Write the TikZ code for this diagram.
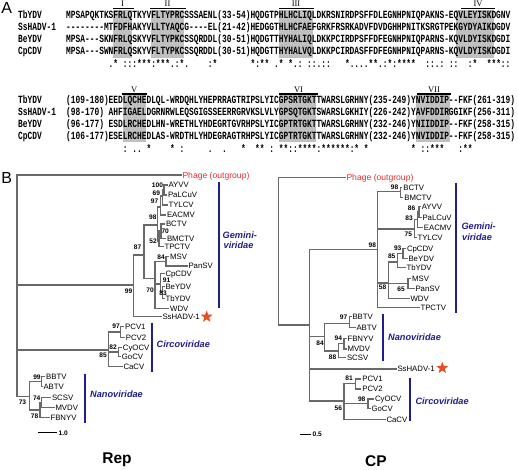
\documentclass[tikz,border=0pt]{standalone}
\usepackage{fontspec}
\setmainfont{Liberation Sans}
\newfontfamily\seqfont[FakeStretch=0.716]{Liberation Mono}
\newfontfamily\romfont{Liberation Serif}
\usetikzlibrary{shapes.geometric}
\definecolor{motifgray}{RGB}{192,192,192}
\definecolor{treegray}{RGB}{105,105,105}
\definecolor{famblue}{RGB}{30,30,140}
\definecolor{phred}{RGB}{232,44,44}
\definecolor{starred}{RGB}{236,76,36}
\newcommand\gp{\mbox{-}}
\begin{document}
\begin{tikzpicture}[x=1pt,y=-1pt,
  seq/.style={anchor=base west, inner sep=0, font=\seqfont\bfseries\fontsize{11}{12}\selectfont},
  rnum/.style={inner sep=0, font=\romfont\fontsize{8.5}{9}\selectfont},
  mbar/.style={line width=1.8pt},
  motif/.style={fill=motifgray},
  tax/.style={anchor=west, inner sep=0.8pt, text height=5.6pt, text depth=0pt, font=\fontsize{7.8}{9}\selectfont},
  phage/.style={tax, text=phred, text height=6.2pt, font=\fontsize{8.6}{10}\selectfont},
  bs/.style={inner sep=0, text height=4.8pt, text depth=0pt, font=\bfseries\fontsize{6.6}{7}\selectfont},
  br/.style={draw=treegray, line width=1.1pt},
  fam/.style={anchor=west, inner sep=0, text=famblue, text height=6.6pt, text depth=0pt, font=\bfseries\itshape\fontsize{9.2}{10}\selectfont},
  famline/.style={draw=famblue, line width=1.7pt},
  sstar/.style={star, star points=5, star point ratio=2.4, fill=starred, draw=none, inner sep=0, minimum size=12.5pt},
  ttl/.style={font=\bfseries\fontsize{15.5}{18}\selectfont, inner sep=0},
  panel/.style={font=\fontsize{16}{18}\selectfont, inner sep=0}
]
\useasboundingbox (0,0) rectangle (518,469);

% ---------------- Panel A ----------------
\node[panel] (pA) at (6.7,7.8) {A};
% motif shading
\fill[motif] (113.2,9.5) rectangle (132.2,57.5);
\fill[motif] (151,9.5) rectangle (184.1,57.5);
\fill[motif] (278.6,9.5) rectangle (313,57.5);
\fill[motif] (456,9.5) rectangle (493.5,57.5);
\fill[motif] (122.7,95) rectangle (146.3,141.5);
\fill[motif] (278.6,95) rectangle (316.4,141.5);
\fill[motif] (416,95) rectangle (450,141.5);
% motif bars and numerals
\draw[mbar] (112.5,8.5) -- (133.5,8.5);
\draw[mbar] (150,8.5) -- (185.5,8.5);
\draw[mbar] (278.7,8.5) -- (314,8.5);
\draw[mbar] (461,8.5) -- (495,8.5);
\draw[mbar] (121.7,94) -- (147,94);
\draw[mbar] (278.7,94) -- (318,94);
\draw[mbar] (417,94) -- (451,94);
\node[rnum] (mI) at (122.5,4) {I};
\node[rnum] (mII) at (167.5,4) {II};
\node[rnum] (mIII) at (296,4) {III};
\node[rnum] (mIV) at (478,4) {IV};
\node[rnum] (mV) at (134.3,89.5) {V};
\node[rnum] (mVI) at (298.5,89.5) {VI};
\node[rnum] (mVII) at (434,89.5) {VII};
% block 1
\node[seq] (n11) at (18,18) {TbYDV};
\node[seq] (n12) at (18,30.3) {SsHADV-1};
\node[seq] (n13) at (18,42.5) {BeYDV};
\node[seq] (n14) at (18,54.8) {CpCDV};
\node[seq] (s11) at (66,18) {MPSAPQKTKSFRLQTKYVFLTYPRCSSSAENL(33-54)HQDGTPHLHCLIQLDKRSNIRDPSFFDLEGNHPNIQPAKNS\gp EQVLEYISKDGNV};
\node[seq] (s12) at (66,30.3) {\gp\gp\gp\gp\gp\gp\gp\gp MTFDFHAKYVLLTYAQCG\gp\gp\gp\gp EL(21-42)HEDGGTHLHCFAEFGRKFRSRKADVFDVDGHHPNITKSRGTPEKGYDYAIKDGDV};
\node[seq] (s13) at (66,42.5) {MPSA\gp\gp\gp SKNFRLQSKYVFLTYPKCSSQRDDL(30-51)HQDGTTHYHALIQLDKKPCIRDPSFFDFEGNHPNIQPARNS\gp KQVLDYISKDGDI};
\node[seq] (s14) at (66,54.8) {MPSA\gp\gp\gp SWNFRLQSKYVFLTYPKCSSQRDDL(30-51)HQDGTTHYHALVQLDKKPCIRDASFFDFEGNHPNIQPARNS\gp KQVLDYISKDGDI};
\node[seq] (c1) at (66,67) {~~~~~~~~~.*~:::***:***.:*.~~~~:*~~~~~~~*:**~.*~*.:~::.::~~~*....**.:*:****~~::.:~::~~:*~~***::};
% block 2
\node[seq] (n21) at (18,103) {TbYDV};
\node[seq] (n22) at (18,115.3) {SsHADV-1};
\node[seq] (n23) at (18,127.6) {BeYDV};
\node[seq] (n24) at (18,139.9) {CpCDV};
\node[seq] (s21) at (66,103) {(109-180)EEDLQCHEDLQL\gp WRDQHLYHEPRRAGTRIPSLYICGPSRTGKTTWARSLGRHNY(235-249)YNVIDDIP\gp\gp FKF(261-319)};
\node[seq] (s22) at (66,115.3) {(98-170)~AHFIGAELDGRNRWLEQSGIGSSEERRGRVKSLVLYGPSQTGKTSWARSLGKHIY(226-242)YAVFDDIRGGIKF(256-311)};
\node[seq] (s23) at (66,127.6) {(96-177)~ESDLRCHEDLHN\gp WRETHLYHDEGRTGVRHPSLYICGPTRTGKTTWARSLGRHNY(232-246)YNIIDDIP\gp\gp FKF(258-315)};
\node[seq] (s24) at (66,139.9) {(106-177)ESELRCHEDLAS\gp WRDTHLYHDEGRAGTRHPSLYICGPTRTGKTTWARSLGRHNY(232-246)YNVIDDIP\gp\gp FKF(258-315)};
\node[seq] (c2) at (66,152.2) {~~~~~~~~~~~~:~..~*~~~~*~:~~~~~.~~.~~~*~~**~:~**::****:******:*~*~~~~~~~~~*~::***~~~:**};

% ---------------- Panel B ----------------
\node[panel] (pB) at (6.7,177.5) {B};

% ===== Rep tree =====
\coordinate (rR) at (17,285);
\node[phage] (rPhage) at (181.5,175) {Phage (outgroup)};
\coordinate (rG0) at (133.3,285);
\coordinate (rC0) at (108.3,350);
\coordinate (rN0) at (29.3,396.7);
\draw[br] (rR) |- (rPhage) (rR) |- (rG0) (rR) |- (rC0) (rR) |- (rN0);
% Geminiviridae + SsHADV-1
\coordinate (rG1) at (144,255);
\node[tax] (rSs) at (161.5,316.7) {SsHADV-1};
\draw[br] (rG0) |- (rG1) (rG0) |- (rSs);
\coordinate (rG2) at (157.5,225);
\coordinate (rG3) at (155,278.3);
\draw[br] (rG1) |- (rG2) (rG1) |- (rG3);
\coordinate (rB1) at (160.7,207);
\coordinate (rK1) at (159,241);
\draw[br] (rG2) |- (rB1) (rG2) |- (rK1);
\coordinate (rB2) at (162.3,196);
\node[tax] (rEACMV) at (166,215) {EACMV};
\draw[br] (rB1) |- (rB2) (rB1) |- (rEACMV);
\coordinate (rB3) at (164,190);
\node[tax] (rTYLCV) at (167.5,205) {TYLCV};
\draw[br] (rB2) |- (rB3) (rB2) |- (rTYLCV);
\node[tax] (rAYVV) at (167.5,185) {AYVV};
\node[tax] (rPaLCuV) at (167,195) {PaLCuV};
\draw[br] (rB3) |- (rAYVV) (rB3) |- (rPaLCuV);
\coordinate (rK2) at (161,231);
\node[tax] (rTPCTV) at (163.5,246.7) {TPCTV};
\draw[br] (rK1) |- (rK2) (rK1) |- (rTPCTV);
\node[tax] (rBCTV) at (165,224) {BCTV};
\node[tax] (rBMCTV) at (166,238.3) {BMCTV};
\draw[br] (rK2) |- (rBCTV) (rK2) |- (rBMCTV);
\coordinate (rM1) at (166,261.7);
\coordinate (rC1) at (160.5,284);
\node[tax] (rWDV) at (169.2,308.3) {WDV};
\draw[br] (rG3) |- (rM1) (rG3) |- (rC1) (rG3) |- (rWDV);
\node[tax] (rMSV) at (169.2,256.7) {MSV};
\node[tax] (rPanSV) at (187.5,266) {PanSV};
\draw[br] (rM1) |- (rMSV) (rM1) |- (rPanSV);
\node[tax] (rCpCDV) at (164.5,273.3) {CpCDV};
\coordinate (rC2) at (162.5,292);
\draw[br] (rC1) |- (rCpCDV) (rC1) |- (rC2);
\node[tax] (rBeYDV) at (164.5,286.7) {BeYDV};
\node[tax] (rTbYDV) at (164.5,298.3) {TbYDV};
\draw[br] (rC2) |- (rBeYDV) (rC2) |- (rTbYDV);
% Circoviridae
\coordinate (rP1) at (120.3,332);
\coordinate (rY1) at (118.3,352);
\node[tax] (rCaCV) at (122.5,366.7) {CaCV};
\draw[br] (rC0) |- (rP1) (rC0) |- (rY1) (rC0) |- (rCaCV);
\node[tax] (rPCV1) at (124.2,326.7) {PCV1};
\node[tax] (rPCV2) at (124.9,337.3) {PCV2};
\draw[br] (rP1) |- (rPCV1) (rP1) |- (rPCV2);
\node[tax] (rCyOCV) at (121.9,347.3) {CyOCV};
\node[tax] (rGoCV) at (120.9,356.7) {GoCV};
\draw[br] (rY1) |- (rCyOCV) (rY1) |- (rGoCV);
% Nanoviridae
\coordinate (rN1) at (41.7,381.7);
\coordinate (rN2) at (40,410);
\draw[br] (rN0) |- (rN1) (rN0) |- (rN2);
\node[tax] (rBBTV) at (45.2,376.7) {BBTV};
\node[tax] (rABTV) at (42.5,386.7) {ABTV};
\draw[br] (rN1) |- (rBBTV) (rN1) |- (rABTV);
\coordinate (rN3) at (41.7,402.3);
\node[tax] (rFBNYV) at (49.5,417.3) {FBNYV};
\draw[br] (rN2) |- (rN3) (rN2) |- (rFBNYV);
\node[tax] (rSCSV) at (51,397.3) {SCSV};
\node[tax] (rMVDV) at (54.5,407.3) {MVDV};
\draw[br] (rN3) |- (rSCSV) (rN3) |- (rMVDV);
% bootstrap values Rep
\node[bs] (rb100) at (157.5,185.5) {100};
\node[bs] (rb69) at (156.3,193.3) {69};
\node[bs] (rb97) at (154.5,201.5) {97};
\node[bs] (rb98) at (152.8,217) {98};
\node[bs] (rb70a) at (165.2,231) {70};
\node[bs] (rb52) at (153,241) {52};
\node[bs] (rb87) at (137.5,247.5) {87};
\node[bs] (rb84) at (161,257) {84};
\node[bs] (rb91) at (166.5,280.5) {91};
\node[bs] (rb70b) at (150,290) {70};
\node[bs] (rb83) at (163,293.5) {83};
\node[bs] (rb99) at (128.5,291.5) {99};
\node[bs] (rb97c) at (116,326.5) {97};
\node[bs] (rb82) at (113,347) {82};
\node[bs] (rb85) at (103,355) {85};
\node[bs] (rb99n) at (37,377.3) {99};
\node[bs] (rb74) at (36.7,398.3) {74};
\node[bs] (rb73) at (22.5,402.5) {73};
\node[bs] (rb78) at (34.5,416) {78};
% families Rep
\draw[famline] (219,181.7) -- (219,308.3);
\draw[famline] (152.3,322.7) -- (152.3,371.7);
\draw[famline] (85,374) -- (85,423);
\node[fam] (rfG1) at (222.5,235) {Gemini-};
\node[fam] (rfG2) at (223.5,245.5) {viridae};
\node[fam] (rfC) at (156.5,344) {Circoviridae};
\node[fam] (rfN) at (90,394) {Nanoviridae};
\node[sstar] (rStar) at (206.7,316.7) {};
% scale Rep
\coordinate (rS1) at (38.3,432.7);
\coordinate (rS2) at (56.7,432.7);
\draw[line width=1pt] (rS1) -- (rS2);
\node[bs, anchor=west] (rSl) at (58.5,432.7) {1.0};
\node[ttl] (rTitle) at (117,460) {Rep};

% ===== CP tree =====
\coordinate (cR) at (278.7,250);
\node[phage] (cPhage) at (345.5,177.3) {Phage (outgroup)};
\coordinate (cM0) at (309.7,325);
\draw[br] (cR) |- (cPhage) (cR) |- (cM0);
\coordinate (cH0) at (377.3,249.3);
\coordinate (cQ0) at (324.7,336.7);
\node[tax] (cSs) at (396.5,369) {SsHADV-1};
\coordinate (cZ0) at (344,401);
\draw[br] (cM0) |- (cH0) (cM0) |- (cQ0) (cM0) |- (cSs) (cM0) |- (cZ0);
% Gemini CP
\coordinate (cE1) at (400.7,191.7);
\coordinate (cE2) at (414.7,229);
\coordinate (cE3) at (388.7,283);
\node[tax] (cTPCTV) at (419.5,307.3) {TPCTV};
\draw[br] (cH0) |- (cE1) (cH0) |- (cE2) (cH0) |- (cE3) (cH0) |- (cTPCTV);
\node[tax] (cBCTV) at (402.3,187.3) {BCTV};
\node[tax] (cBMCTV) at (403.3,197.3) {BMCTV};
\draw[br] (cE1) |- (cBCTV) (cE1) |- (cBMCTV);
\coordinate (cE4) at (417.3,219.5);
\node[tax] (cTYLCV) at (416.5,237.3) {TYLCV};
\draw[br] (cE2) |- (cE4) (cE2) |- (cTYLCV);
\coordinate (cE5) at (419,212);
\node[tax] (cEACMV) at (422.9,227.3) {EACMV};
\draw[br] (cE4) |- (cE5) (cE4) |- (cEACMV);
\node[tax] (cAYVV) at (420.8,206.7) {AYVV};
\node[tax] (cPaLCuV) at (421.5,217.3) {PaLCuV};
\draw[br] (cE5) |- (cAYVV) (cE5) |- (cPaLCuV);
\coordinate (cE6) at (397.3,262);
\coordinate (cE7) at (408,283.3);
\node[tax] (cWDV) at (409.5,298.3) {WDV};
\draw[br] (cE3) |- (cE6) (cE3) |- (cE7) (cE3) |- (cWDV);
\coordinate (cE8) at (403,253.3);
\node[tax] (cTbYDV) at (405.5,267.3) {TbYDV};
\draw[br] (cE6) |- (cE8) (cE6) |- (cTbYDV);
\node[tax] (cCpCDV) at (406,248.3) {CpCDV};
\node[tax] (cBeYDV) at (407.5,258.3) {BeYDV};
\draw[br] (cE8) |- (cCpCDV) (cE8) |- (cBeYDV);
\node[tax] (cMSV) at (411.2,278.3) {MSV};
\node[tax] (cPanSV) at (414.5,288.3) {PanSV};
\draw[br] (cE7) |- (cMSV) (cE7) |- (cPanSV);
% Nano CP
\coordinate (cQ1) at (349.7,323.3);
\coordinate (cQ2) at (338.7,351);
\draw[br] (cQ0) |- (cQ1) (cQ0) |- (cQ2);
\node[tax] (cBBTV) at (351.5,316.7) {BBTV};
\node[tax] (cABTV) at (355.5,327.3) {ABTV};
\draw[br] (cQ1) |- (cBBTV) (cQ1) |- (cABTV);
\coordinate (cQ3) at (344,343.7);
\node[tax] (cSCSV) at (346,357.7) {SCSV};
\draw[br] (cQ2) |- (cQ3) (cQ2) |- (cSCSV);
\node[tax] (cFBNYV) at (346.5,338.3) {FBNYV};
\node[tax] (cMVDV) at (346.5,349) {MVDV};
\draw[br] (cQ3) |- (cFBNYV) (cQ3) |- (cMVDV);
% Circo CP
\coordinate (cZ1) at (355.3,383.3);
\coordinate (cZ2) at (368,403.7);
\node[tax] (cCaCV) at (385.5,419.3) {CaCV};
\draw[br] (cZ0) |- (cZ1) (cZ0) |- (cZ2) (cZ0) |- (cCaCV);
\node[tax] (cPCV1) at (361.3,379) {PCV1};
\node[tax] (cPCV2) at (361.3,389) {PCV2};
\draw[br] (cZ1) |- (cPCV1) (cZ1) |- (cPCV2);
\node[tax] (cCyOCV) at (374,399) {CyOCV};
\node[tax] (cGoCV) at (370.5,408.3) {GoCV};
\draw[br] (cZ2) |- (cCyOCV) (cZ2) |- (cGoCV);
% bootstrap CP
\node[bs] (cb98a) at (394.5,187.5) {98};
\node[bs] (cb86) at (411.5,208.3) {86};
\node[bs] (cb83) at (409,217.7) {83};
\node[bs] (cb75) at (408.3,234) {75};
\node[bs] (cb98b) at (372.3,245) {98};
\node[bs] (cb93) at (397.7,248.3) {93};
\node[bs] (cb85) at (391.7,256) {85};
\node[bs] (cb58) at (382.5,287) {58};
\node[bs] (cb65) at (401,289.3) {65};
\node[bs] (cb97) at (343.5,316.7) {97};
\node[bs] (cb94) at (338.3,338.3) {94};
\node[bs] (cb84) at (320,343.3) {84};
\node[bs] (cb88) at (332.5,356.7) {88};
\node[bs] (cb81) at (349,378.3) {81};
\node[bs] (cb98c) at (361.7,399) {98};
\node[bs] (cb56) at (338.3,408.3) {56};
% families CP
\draw[famline] (455.7,182.7) -- (455.7,312.7);
\draw[famline] (383,314) -- (383,360.7);
\draw[famline] (409.7,377.7) -- (409.7,420.7);
\node[fam] (cfG1) at (461.3,226) {Gemini-};
\node[fam] (cfG2) at (462,237.3) {viridae};
\node[fam] (cfN) at (388,336.7) {Nanoviridae};
\node[fam] (cfC) at (415.3,400.7) {Circoviridae};
\node[sstar] (cStar) at (442.3,368) {};
% scale CP
\coordinate (cS1) at (299.7,434);
\coordinate (cS2) at (310.7,434);
\draw[line width=1pt] (cS1) -- (cS2);
\node[bs, anchor=west] (cSl) at (312.5,434) {0.5};
\node[ttl] (cTitle) at (376,461) {CP};
\end{tikzpicture}
\end{document}
